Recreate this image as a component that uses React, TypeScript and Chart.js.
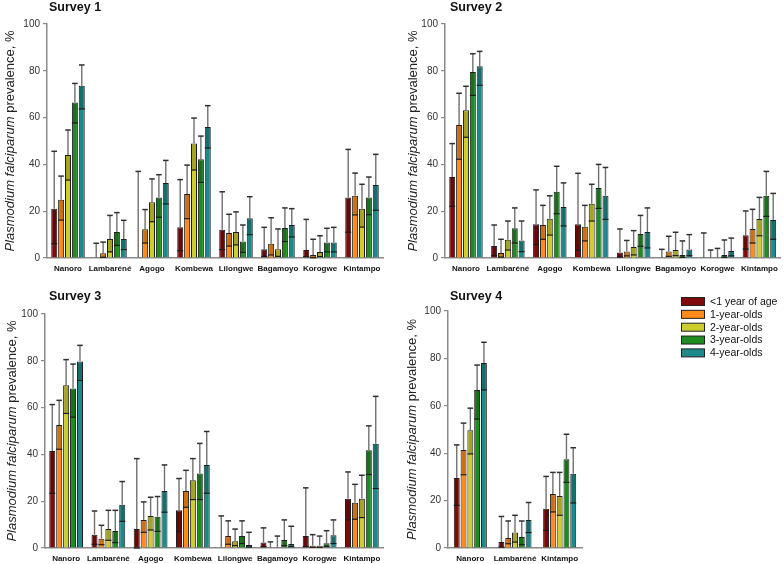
import React, { useEffect, useRef } from "react";
import { Chart, registerables } from "chart.js";
Chart.register(...registerables);

// ---------- data ----------
const SERIES_LABELS = ["<1 year of age", "1-year-olds", "2-year-olds", "3-year-olds", "4-year-olds"];
const SERIES_COLORS = ["#7f0a0a", "#ff8c1a", "#cdcd2e", "#1f8c1f", "#1c8a8a"];
const SITES_ALL = ["Nanoro", "Lambaréné", "Agogo", "Kombewa", "Lilongwe", "Bagamoyo", "Korogwe", "Kintampo"];
const SITES_S4 = ["Nanoro", "Lambaréné", "Kintampo"];
const Y_TICKS = [0, 20, 40, 60, 80, 100];
const Y_TITLE_ITALIC = "Plasmodium falciparum";
const Y_TITLE_REST = " prevalence, %";
const SURVEY_TITLES = ["Survey 1", "Survey 2", "Survey 3", "Survey 4"];

// Survey 1 (rows = age groups, cols = sites)
const s1Prev = [
  [21.1, 0, 0, 13.1, 12.1, 3.7, 3.4, 25.9],
  [24.9, 2.0, 12.3, 27.4, 10.7, 6.1, 1.3, 26.6],
  [44.0, 8.1, 23.8, 48.9, 11.1, 3.7, 2.6, 21.1],
  [66.5, 11.1, 25.9, 42.2, 7.0, 12.8, 6.6, 25.9],
  [73.6, 8.1, 32.1, 56.0, 17.0, 14.1, 6.6, 31.2],
];
const s1Upper = [
  [45.6, 6.3, 37.0, 33.5, 28.3, 13.1, 16.5, 46.4],
  [35.0, 6.8, 20.7, 39.7, 18.7, 17.2, 8.0, 36.3],
  [54.7, 18.2, 33.8, 59.8, 19.7, 12.4, 9.5, 31.5],
  [74.6, 19.4, 35.6, 52.1, 14.1, 21.4, 12.7, 34.6],
  [82.5, 16.1, 41.7, 65.1, 26.2, 21.1, 13.1, 44.3],
];
const s1Lower = [
  [6.1, 0, 0, 3.1, 3.6, 0.7, 0.6, 11.0],
  [16.2, 0.3, 6.4, 16.8, 5.1, 1.3, 0.1, 18.4],
  [33.3, 2.6, 15.5, 37.6, 5.6, 0.7, 0.6, 13.2],
  [57.7, 5.4, 17.4, 32.3, 2.4, 7.0, 2.6, 18.5],
  [63.7, 3.6, 23.1, 47.0, 10.0, 9.0, 2.6, 20.4],
];

// Survey 2
const s2Prev = [
  [34.6, 5.1, 14.4, 14.4, 2.4, 0, 0, 9.7],
  [56.8, 2.1, 14.1, 13.4, 2.8, 2.8, 0, 12.4],
  [63.1, 7.8, 16.8, 23.2, 4.7, 3.4, 0, 16.7],
  [79.5, 12.7, 28.3, 29.9, 10.3, 1.3, 1.3, 26.6],
  [81.9, 7.5, 21.8, 26.6, 11.1, 3.6, 3.0, 16.2],
];
const s2Upper = [
  [48.9, 14.1, 29.1, 36.2, 12.4, 3.7, 10.7, 20.1],
  [70.4, 8.0, 22.5, 22.5, 7.5, 9.3, 3.4, 20.8],
  [73.4, 15.8, 26.6, 31.5, 11.7, 11.0, 4.1, 25.9],
  [87.3, 21.4, 39.2, 40.0, 18.2, 7.3, 7.7, 37.0],
  [88.3, 15.8, 32.1, 38.7, 21.4, 10.0, 8.5, 27.6],
];
const s2Lower = [
  [22.1, 1.0, 5.7, 3.3, 0.4, 0, 0, 3.8],
  [42.2, 0.4, 8.0, 7.3, 0.9, 0.7, 0, 6.4],
  [51.6, 3.4, 9.8, 15.8, 1.3, 1.0, 0, 9.5],
  [69.5, 6.4, 18.9, 21.2, 5.0, 0.3, 0.3, 17.8],
  [73.8, 2.7, 13.7, 16.5, 4.3, 1.0, 0.9, 8.0],
];

// Survey 3
const s3Prev = [
  [41.5, 5.7, 8.1, 16.1, 0, 2.3, 5.1, 21.0],
  [52.6, 4.0, 12.0, 24.4, 5.1, 0, 1.0, 19.3],
  [69.6, 8.1, 13.7, 29.0, 2.9, 0, 1.0, 21.0],
  [68.2, 7.3, 13.4, 31.8, 5.1, 3.4, 2.0, 41.8],
  [79.7, 18.5, 24.4, 35.5, 1.3, 1.7, 5.4, 44.6],
];
const s3Upper = [
  [61.3, 15.8, 38.2, 29.7, 13.7, 8.6, 25.7, 32.5],
  [63.1, 9.7, 19.7, 33.2, 11.6, 2.6, 5.7, 27.2],
  [80.5, 16.1, 21.7, 38.2, 8.1, 5.1, 5.1, 31.1],
  [78.6, 16.1, 22.0, 44.7, 11.6, 12.0, 7.4, 52.2],
  [86.6, 28.4, 35.5, 49.8, 6.7, 9.3, 12.0, 64.8],
];
const s3Lower = [
  [23.4, 1.6, 0, 7.0, 0, 0.6, 0.6, 12.0],
  [42.2, 1.4, 6.7, 17.4, 1.6, 0, 0.3, 12.3],
  [57.5, 3.3, 7.7, 20.7, 1.0, 0, 0.3, 13.0],
  [55.9, 2.3, 7.1, 20.7, 1.9, 1.0, 0.7, 31.4],
  [71.6, 11.4, 15.3, 23.4, 0.4, 0.6, 1.9, 25.4],
];

// Survey 4
const s4Prev = [
  [29.5, 2.5, 16.6],
  [41.4, 4.2, 22.8],
  [49.7, 6.5, 21.9],
  [66.7, 4.6, 37.5],
  [78.1, 11.8, 31.3],
];
const s4Upper = [
  [43.5, 13.3, 30.2],
  [52.7, 11.4, 31.9],
  [59.0, 13.8, 31.9],
  [77.2, 11.4, 48.0],
  [86.8, 19.2, 42.3],
];
const s4Lower = [
  [18.0, 0.4, 7.4],
  [30.9, 1.8, 15.2],
  [39.7, 2.5, 13.8],
  [54.4, 1.4, 27.7],
  [66.7, 6.5, 19.0],
];

// ---------- layout (positions/styles only) ----------
const W = 392;
const H = 282;
const FONT = "Arial, 'Liberation Sans', Helvetica, sans-serif";

type PanelCfg = {
  left: number; top: number;
  axisLeft: number; areaTop: number; areaRight: number; areaBottom: number;
  yTitleX: number; titleX: number; titleY: number; catPct: number;
  sites: string[]; prev: number[][]; upper: number[][]; lower: number[][];
  title: string; legend: boolean;
};

const PANELS: PanelCfg[] = [
  { left: 0, top: 0, axisLeft: 47, areaTop: 24, areaRight: 383, areaBottom: 258, yTitleX: 10, titleX: 49, titleY: 8, catPct: 0.82,
    sites: SITES_ALL, prev: s1Prev, upper: s1Upper, lower: s1Lower, title: SURVEY_TITLES[0], legend: false },
  { left: 392, top: 0, axisLeft: 53, areaTop: 24, areaRight: 390, areaBottom: 258, yTitleX: 21, titleX: 58, titleY: 8, catPct: 0.82,
    sites: SITES_ALL, prev: s2Prev, upper: s2Upper, lower: s2Lower, title: SURVEY_TITLES[1], legend: false },
  { left: 0, top: 282, axisLeft: 45, areaTop: 32, areaRight: 383, areaBottom: 266, yTitleX: 12, titleX: 49, titleY: 15, catPct: 0.82,
    sites: SITES_ALL, prev: s3Prev, upper: s3Upper, lower: s3Lower, title: SURVEY_TITLES[2], legend: false },
  { left: 392, top: 282, axisLeft: 56, areaTop: 29, areaRight: 190, areaBottom: 266, yTitleX: 20, titleX: 58, titleY: 15, catPct: 0.76,
    sites: SITES_S4, prev: s4Prev, upper: s4Upper, lower: s4Lower, title: SURVEY_TITLES[3], legend: true },
];

function makePlugin(cfg: PanelCfg) {
  return {
    id: "decor",
    afterDatasetsDraw(chart: any) {
      const ctx = chart.ctx;
      const ys = chart.scales.y;
      ctx.save();
      chart.data.datasets.forEach((ds: any, di: number) => {
        const meta = chart.getDatasetMeta(di);
        meta.data.forEach((bar: any, i: number) => {
          const p = bar.getProps(["x", "y", "width", "base"], true);
          const up = ys.getPixelForValue(ds.upperCI[i]);
          const lo = ys.getPixelForValue(ds.lowerCI[i]);
          const v = ds.data[i];
          const half = p.width / 2;
          if (v > 0) {
            ctx.fillStyle = "rgba(0,0,0,0.2)";
            ctx.fillRect(p.x - half + 1, p.y + 1, p.width - 2, Math.max(0, lo - p.y - 1));
            ctx.strokeStyle = "#1a1a1a";
            ctx.lineWidth = 1.2;
            ctx.beginPath();
            ctx.moveTo(p.x - half, lo);
            ctx.lineTo(p.x + half, lo);
            ctx.stroke();
          }
          ctx.strokeStyle = "#707070";
          ctx.lineWidth = 1.4;
          ctx.beginPath();
          ctx.moveTo(p.x, p.y);
          ctx.lineTo(p.x, up);
          ctx.stroke();
          ctx.strokeStyle = "#303030";
          ctx.lineWidth = 1.5;
          ctx.beginPath();
          ctx.moveTo(p.x - 2.8, up);
          ctx.lineTo(p.x + 2.8, up);
          ctx.stroke();
        });
      });
      ctx.restore();
    },
    afterDraw(chart: any) {
      const ctx = chart.ctx;
      const area = chart.chartArea;
      ctx.save();
      // panel title
      ctx.fillStyle = "#111";
      ctx.font = `bold 12.5px ${FONT}`;
      ctx.textBaseline = "middle";
      ctx.textAlign = "left";
      ctx.fillText(cfg.title, cfg.titleX, cfg.titleY);
      // y-axis title (mixed italic / normal)
      ctx.translate(cfg.yTitleX, (area.top + area.bottom) / 2);
      ctx.rotate(-Math.PI / 2);
      const fi = `italic 13px ${FONT}`;
      const fn = `13px ${FONT}`;
      ctx.font = fi;
      const w1 = ctx.measureText(Y_TITLE_ITALIC).width;
      ctx.font = fn;
      const w2 = ctx.measureText(Y_TITLE_REST).width;
      const start = -(w1 + w2) / 2;
      ctx.fillStyle = "#222";
      ctx.font = fi;
      ctx.fillText(Y_TITLE_ITALIC, start, 0);
      ctx.font = fn;
      ctx.fillText(Y_TITLE_REST, start + w1, 0);
      ctx.restore();
      // legend
      if (cfg.legend) {
        ctx.save();
        ctx.font = `10.5px ${FONT}`;
        ctx.textBaseline = "middle";
        chart.data.datasets.forEach((ds: any, di: number) => {
          const cy = 19.5 + di * 12.85;
          ctx.fillStyle = ds.backgroundColor;
          ctx.fillRect(289, cy - 4, 23, 8);
          ctx.strokeStyle = "#222";
          ctx.lineWidth = 1;
          ctx.strokeRect(289.5, cy - 4, 23, 8);
          ctx.fillStyle = "#111";
          ctx.fillText(ds.label, 318, cy + 0.5);
        });
        ctx.restore();
      }
    },
  };
}

function Panel({ cfg }: { cfg: PanelCfg }) {
  const ref = useRef<HTMLCanvasElement | null>(null);
  useEffect(() => {
    if (!ref.current) return;
    const chart = new Chart(ref.current, {
      type: "bar",
      data: {
        labels: cfg.sites,
        datasets: SERIES_LABELS.map((label, si) => ({
          label,
          data: cfg.prev[si],
          upperCI: cfg.upper[si],
          lowerCI: cfg.lower[si],
          backgroundColor: SERIES_COLORS[si],
          borderColor: "#1e1e1e",
          borderWidth: 1,
          barPercentage: 0.87,
          categoryPercentage: cfg.catPct,
        })) as any,
      },
      options: {
        animation: false,
        responsive: false,
        maintainAspectRatio: false,
        layout: { padding: { left: 0, top: cfg.areaTop, right: W - cfg.areaRight, bottom: 0 } },
        plugins: { legend: { display: false }, title: { display: false }, tooltip: { enabled: false } },
        scales: {
          x: {
            type: "category",
            grid: { display: false, drawTicks: false },
            border: { display: true, color: "#8a8a8a", width: 1.5 },
            ticks: { color: "#111", font: { family: FONT, size: 8, weight: "bold" }, padding: 6, maxRotation: 0, autoSkip: false },
            afterFit: (s: any) => { s.height = H - cfg.areaBottom; },
          },
          y: {
            type: "linear",
            min: 0,
            max: 100,
            afterBuildTicks: (s: any) => { s.ticks = Y_TICKS.map((v) => ({ value: v })); },
            grid: { display: true, drawOnChartArea: false, drawTicks: true, tickLength: 4, color: "#8a8a8a", lineWidth: 1.2 },
            border: { display: true, color: "#8a8a8a", width: 1.5 },
            ticks: { color: "#333", font: { family: FONT, size: 10 }, padding: 3 },
            afterFit: (s: any) => { s.width = cfg.axisLeft; },
          },
        },
      } as any,
      plugins: [makePlugin(cfg)],
    });
    return () => chart.destroy();
  }, [cfg]);
  return (
    <canvas
      ref={ref}
      width={W}
      height={H}
      style={{ position: "absolute", left: cfg.left, top: cfg.top, width: W, height: H }}
    />
  );
}

export default function App() {
  return (
    <div style={{ position: "absolute", left: 0, top: 0, width: 784, height: 564, background: "#fff", overflow: "hidden" }}>
      {PANELS.map((p, i) => (
        <Panel key={i} cfg={p} />
      ))}
    </div>
  );
}
